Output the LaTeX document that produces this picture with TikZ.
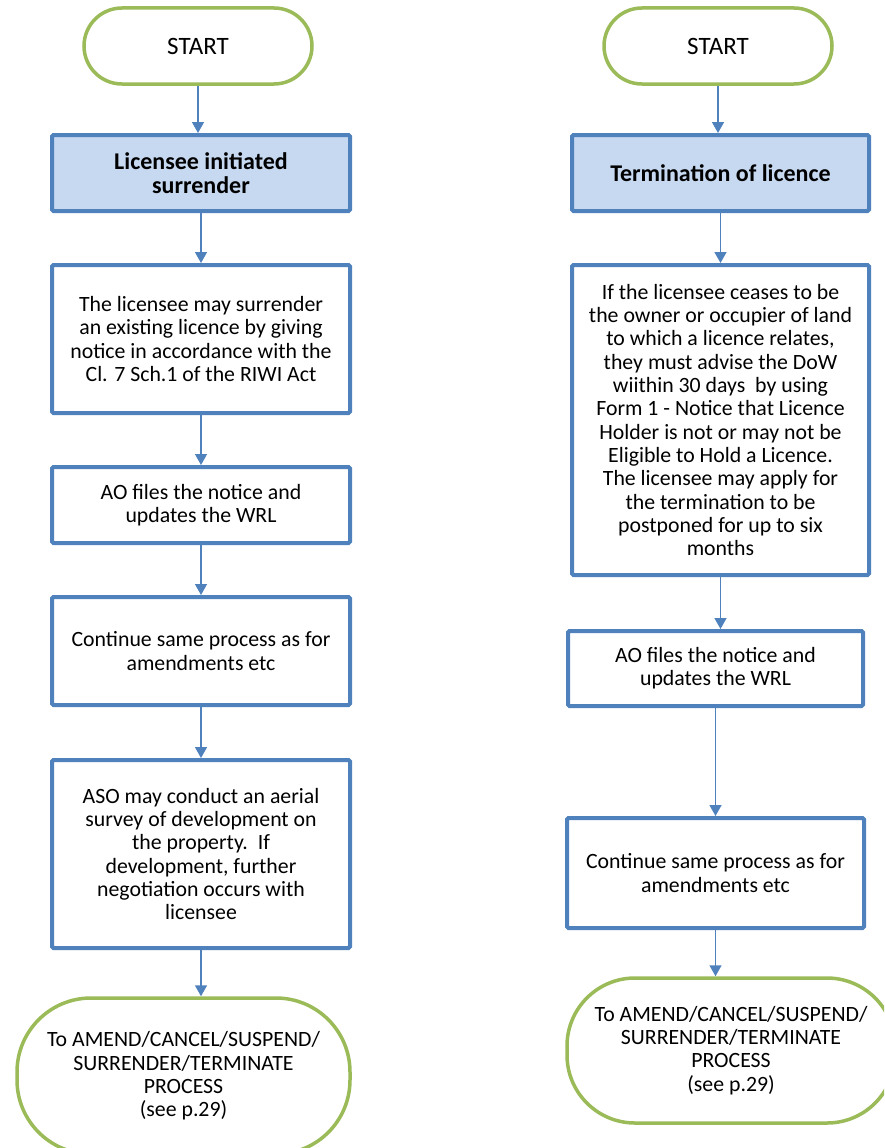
\documentclass[tikz,border=0pt]{standalone}
\usepackage{fontspec}
\setmainfont{Carlito}
\usetikzlibrary{arrows.meta}
\definecolor{boxblue}{HTML}{4F81BD}
\definecolor{headfill}{HTML}{C6D9F1}
\definecolor{termgreen}{HTML}{9BBB59}
\tikzset{
  x=1pt, y=-1pt,
  every node/.style={font=\fontsize{21.8}{23.3}\selectfont, align=center, inner sep=0pt, text=black},
  terminal/.style={draw=termgreen, line width=3.5pt, fill=white, rounded corners=#1},
  terminal/.default=38pt,
  procbox/.style={draw=boxblue, line width=4pt, fill=white, rounded corners=1.5pt},
  headbox/.style={procbox, fill=headfill, font=\fontsize{24}{23.3}\selectfont\bfseries},
  flow/.style={draw=boxblue, line width=1.5pt, -{Triangle[width=12pt,length=11pt]}},
  starttext/.style={font=\fontsize{25}{26}\selectfont},
}
\begin{document}
\begin{tikzpicture}
\useasboundingbox (0,0) rectangle (884,1148);
\clip (0,0) rectangle (884,1148);

% ---- left column: surrender ----
\node[terminal, starttext, minimum width=228pt, minimum height=76pt] (ls) at (198,46) {START};
\node[headbox, minimum width=298pt, minimum height=76pt] (l1) at (201,173) {Licensee initiated\\surrender};
\node[procbox, minimum width=298pt, minimum height=148pt] (l2) at (201,339)
  {The licensee may surrender\\an existing licence by giving\\notice in accordance with the\\Cl. 7 Sch.1 of the RIWI Act};
\node[procbox, minimum width=298pt, minimum height=76pt] (l3) at (201,505)
  {AO files the notice and\\updates the WRL};
\node[procbox, minimum width=298pt, minimum height=108pt] (l4) at (201,651)
  {Continue same process as for\\amendments etc};
\node[procbox, minimum width=298pt, minimum height=188pt] (l5) at (201,854)
  {ASO may conduct an aerial\\survey of development on\\the property.\ \ If\\development, further\\negotiation occurs with\\licensee};
\node[terminal=74pt, minimum width=333pt, minimum height=156pt] (le) at (183.5,1076)
  {To AMEND/CANCEL/SUSPEND/\\SURRENDER/TERMINATE\\PROCESS\\(see p.29)};

% ---- right column: termination ----
\node[terminal, starttext, minimum width=228pt, minimum height=76pt] (rs) at (718,46) {START};
\node[headbox, minimum width=297pt, minimum height=76pt] (r1) at (720.5,173) {Termination of licence};
\node[procbox, minimum width=297pt, minimum height=310pt] (r2) at (720.5,420)
  {If the licensee ceases to be\\the owner or occupier of land\\to which a licence relates,\\they must advise the DoW\\wiithin 30 days\ \ by using\\Form 1 - Notice that Licence\\Holder is not or may not be\\Eligible to Hold a Licence.\\The licensee may apply for\\the termination to be\\postponed for up to six\\months};
\node[procbox, minimum width=295pt, minimum height=75pt] (r3) at (715.5,668.5)
  {AO files the notice and\\updates the WRL};
\node[procbox, minimum width=297pt, minimum height=110pt] (r4) at (715.5,873)
  {Continue same process as for\\amendments etc};
\node[terminal=68pt, minimum width=328pt, minimum height=145pt] (re) at (731,1050.5)
  {To AMEND/CANCEL/SUSPEND/\\SURRENDER/TERMINATE\\PROCESS\\(see p.29)};

% ---- connectors ----
\foreach \a/\b in {ls/l1, l1/l2, l2/l3, l3/l4, l4/l5, l5/le, rs/r1, r1/r2, r2/r3, r3/r4, r4/re}
  \draw[flow] (\a.south) -- (\a.south |- \b.north);
\end{tikzpicture}
\end{document}
